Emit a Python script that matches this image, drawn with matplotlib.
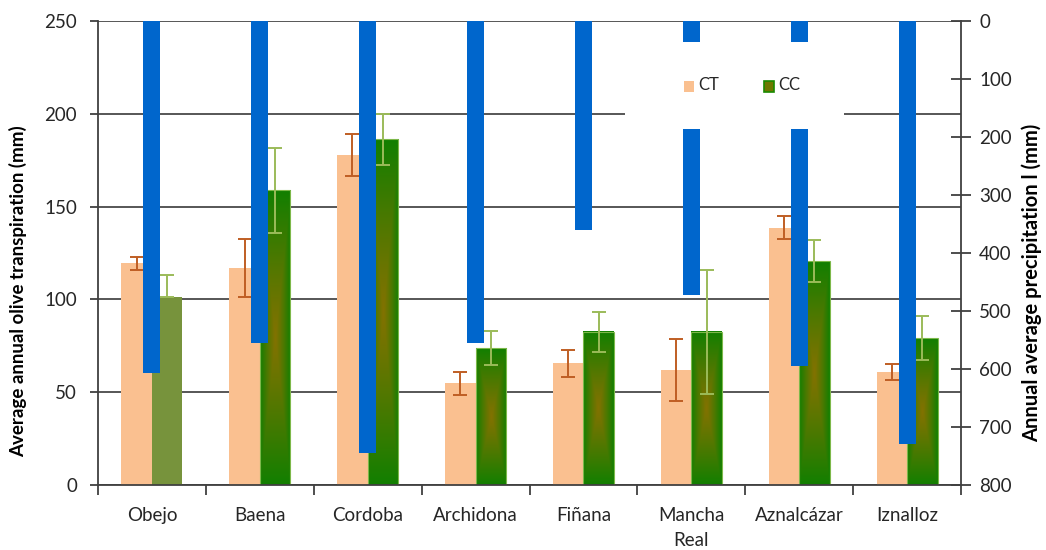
import numpy as np
import matplotlib
matplotlib.use("Agg")
import matplotlib.pyplot as plt
from matplotlib.patches import Rectangle
from matplotlib.colors import to_rgb

# Sites
sites = ["Obejo", "Baena", "Cordoba", "Archidona", "Fiñana",
         "Mancha\nReal", "Aznalcázar", "Iznalloz"]

# Annual olive transpiration (mm) under conventional tillage (CT) and cover crop (CC)
ct = [119.4, 116.7, 178.0, 54.8, 65.6, 62.0, 138.6, 60.7]
ct_err = [3.5, 15.6, 11.3, 6.2, 7.2, 16.6, 6.1, 4.3]
cc = [101.5, 158.8, 186.2, 73.8, 82.6, 82.6, 120.5, 79.2]
cc_err_low = [0.0, 23.0, 13.7, 9.0, 10.8, 33.4, 11.3, 12.0]
cc_err_high = [11.6, 23.0, 13.7, 9.0, 10.8, 33.4, 11.3, 12.0]

# Annual average precipitation (mm)
precip = [607, 555, 745, 555, 360, 472, 594, 730]

left_ticks = [0, 50, 100, 150, 200, 250]
right_ticks = [0, 100, 200, 300, 400, 500, 600, 700, 800]

FONT = "Lato"
plt.rcParams["font.family"] = [FONT, "DejaVu Sans"]

CT_COLOR = "#FAC090"
CT_ERR = "#BF5E24"
CC_EDGE = np.array(to_rgb("#127F00"))
CC_CENTER = np.array(to_rgb("#827200"))
CC_FLAT = "#77933C"
CC_ERR = "#9BBB59"
BLUE = "#0066CC"
AXIS = "#404040"

fig = plt.figure(figsize=(10.46, 5.5), dpi=100)
ax = fig.add_axes([98 / 1046, 1 - 485 / 550, 863 / 1046, 464 / 550])

n = len(sites)
x = np.arange(n)
bw = 0.283
off = 0.141

ax.set_xlim(-0.5, n - 0.5)
ax.set_ylim(0, 250)

# CT bars
ax.bar(x - off, ct, width=bw, color=CT_COLOR, zorder=2)
ax.errorbar(x - off, ct, yerr=ct_err, fmt="none", ecolor=CT_ERR,
            elinewidth=1.4, capsize=5, capthick=1.4, zorder=4)

# CC bars: rectangular centre-out gradient, first site in flat colour
res = 120
u = np.linspace(-1, 1, res)
uu, vv = np.meshgrid(u, u)
t = np.maximum(np.abs(uu), np.abs(vv)) ** 1.15
grad = CC_CENTER[None, None, :] * (1 - t[..., None]) + CC_EDGE[None, None, :] * t[..., None]

for i, (xi, h) in enumerate(zip(x + off, cc)):
    if i == 0:
        ax.bar(xi, h, width=bw, color=CC_FLAT, zorder=2)
    else:
        ax.imshow(grad, extent=[xi - bw / 2, xi + bw / 2, 0, h],
                  aspect="auto", origin="lower", zorder=2, interpolation="bilinear")
        ax.add_patch(Rectangle((xi - bw / 2, 0), bw, h, fill=False,
                               edgecolor="#7DB84A", linewidth=0.8, zorder=2.5))
ax.errorbar(x + off, cc, yerr=[cc_err_low, cc_err_high], fmt="none", ecolor=CC_ERR,
            elinewidth=1.4, capsize=5, capthick=1.4, zorder=4)

ax.set_xlim(-0.5, n - 0.5)
ax.set_ylim(0, 250)

# Grid and axes styling
ax.set_yticks(left_ticks)
ax.yaxis.grid(True, color="#3a3a3a", linewidth=1.2, zorder=0)
ax.set_axisbelow(True)
ax.set_xticks(x)
ax.set_xticklabels(sites, fontsize=13.5, color="#262626", linespacing=1.55)
ax.set_xticks(np.arange(n + 1) - 0.5, minor=True)
ax.tick_params(axis="x", which="major", length=0, pad=16)
ax.tick_params(axis="x", which="minor", length=7, width=1.3, color=AXIS, direction="out")
ax.tick_params(axis="y", length=6, width=1.3, color=AXIS, labelsize=13.5,
               labelcolor="#262626", pad=9)
for side in ("left", "bottom", "right"):
    ax.spines[side].set_color(AXIS)
    ax.spines[side].set_linewidth(1.3)
ax.spines["top"].set_visible(False)

# Precipitation bars hanging from the top on the secondary axis
ax2 = ax.twinx()
ax2.bar(x, precip, width=0.158, color=BLUE, zorder=3)
ax2.set_ylim(800, 0)
ax2.set_xlim(-0.5, n - 0.5)
ax2.set_yticks(right_ticks)
ax2.tick_params(axis="y", direction="inout", length=14, width=1.3, color=AXIS,
                labelsize=13.5, labelcolor="#262626", pad=6)
for side in ("left", "bottom", "right", "top"):
    ax2.spines[side].set_visible(False)
ax.spines["right"].set_visible(True)

# Legend panel
ax2.add_patch(Rectangle((0.6107, 0.7672), 0.2537, 0.1882, transform=ax2.transAxes,
                        facecolor="white", edgecolor="none", zorder=10))
ax2.add_patch(Rectangle((0.6795, 0.8475), 0.0116, 0.0237, transform=ax2.transAxes,
                        facecolor=CT_COLOR, edgecolor="none", zorder=11))
ax2.text(0.6955, 0.862, "CT", transform=ax2.transAxes, fontsize=12,
         color="#262626", va="center", ha="left", zorder=12)
ax2.add_patch(Rectangle((0.7720, 0.8475), 0.0116, 0.0237, transform=ax2.transAxes,
                        facecolor="#6E7800", edgecolor="#1A8A00", linewidth=1.2, zorder=11))
ax2.text(0.7885, 0.862, "CC", transform=ax2.transAxes, fontsize=12,
         color="#262626", va="center", ha="left", zorder=12)

# Axis titles
fig.text(18 / 1046, 1 - 291 / 550, "Average annual olive transpiration (mm)",
         rotation=90, ha="center", va="center", fontsize=13.5, fontweight="bold",
         color="black")
fig.text(1032 / 1046, 1 - 283 / 550, "Annual average precipitation l (mm)",
         rotation=90, ha="center", va="center", fontsize=14.5, fontweight="bold",
         color="black")

fig.savefig("out.png", dpi=100)
